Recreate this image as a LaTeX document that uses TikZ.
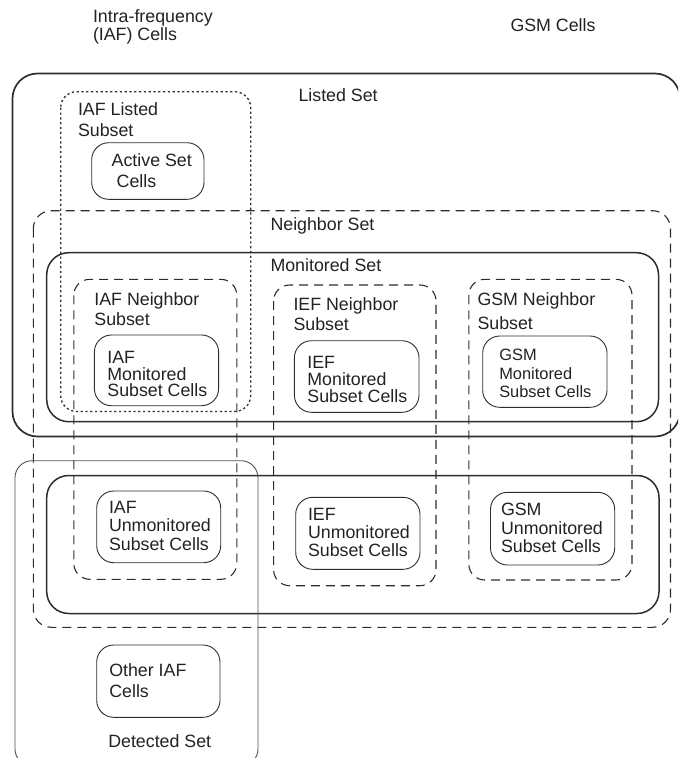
\documentclass[tikz,border=0pt]{standalone}
\usepackage{fontspec}
\setmainfont{Liberation Sans}
\definecolor{ink}{RGB}{34,34,34}
\definecolor{edge}{RGB}{45,45,45}
\definecolor{thinedge}{RGB}{80,80,80}
\newcommand{\lsz}[1]{\fontsize{17.8}{#1}\selectfont}
\begin{document}
% multi-line labels are placed by the baseline of their last line
\begin{tikzpicture}[x=1pt,y=-1pt,
  lbl/.style={anchor=base west, inner sep=0pt, outer sep=0pt, align=left,
    font=\lsz{20}, text=ink},
  setbox/.style={draw=edge, line width=1.5pt, rounded corners=22pt},
  outerbox/.style={draw=edge, line width=1.7pt, rounded corners=25pt},
  dashbox/.style={draw=edge, line width=1.1pt, dash pattern=on 9pt off 6pt, rounded corners=16pt},
  dotbox/.style={draw=edge, line width=1.3pt, dash pattern=on 2.2pt off 2.6pt, rounded corners=16pt},
  cellbox/.style={draw=edge, line width=0.9pt, rounded corners=17pt},
  detbox/.style={draw=thinedge, line width=0.9pt, rounded corners=17pt}]
\useasboundingbox (0,0) rectangle (678,758);
\clip (0,0) rectangle (678,758);

% headings
\node[lbl, font=\lsz{16}] (hiaf) at (93,40.5) {Intra-frequency\\(IAF) Cells};
\node[lbl] (hgsm) at (510.5,31.5) {GSM Cells};

% listed set and IAF listed subset
\draw[outerbox] (12.5,73.5) rectangle (680,436.5);
\node[lbl] (listed) at (298.5,101.5) {Listed Set};
\draw[dotbox] (60.7,91.7) rectangle (250.7,411.5);
\node[lbl, font=\lsz{21}] (iafl) at (78,136) {IAF Listed\\Subset};
\draw[cellbox] (91.7,142.7) rectangle (204,199.3);
\node[lbl, font=\lsz{21}] (act) at (111.7,187.7) {Active Set\\\hspace*{5pt}Cells};

% neighbor set
\draw[dashbox, rounded corners=18pt] (33.3,210.7) rectangle (670.5,627.3);
\node[lbl] (neigh) at (270.5,230) {Neighbor Set};

% monitored set
\draw[setbox] (46.7,252.7) rectangle (658.5,421.7);
\node[lbl] (mon) at (270.5,271) {Monitored Set};

% unmonitored set
\draw[setbox] (46.7,475.5) rectangle (659,613.5);

% neighbor subsets
\draw[dashbox] (73.8,279.3) rectangle (236.8,579.3);
\node[lbl, font=\lsz{19.3}] (iafn) at (94.4,325) {IAF Neighbor\\Subset};
\draw[dashbox] (273.6,285) rectangle (436,585.7);
\node[lbl, font=\lsz{20}] (iefn) at (293.5,330.7) {IEF Neighbor\\Subset};
\draw[dashbox] (468.8,279.3) rectangle (632,580);
\node[lbl, font=\lsz{23.6}] (gsmn) at (477.5,329.3) {GSM Neighbor\\Subset};

% monitored subset cells
\draw[cellbox] (94.4,335) rectangle (218.6,405.7);
\node[lbl, font=\lsz{16.7}] (iafm) at (107.4,396.7) {IAF\\Monitored\\Subset Cells};
\draw[cellbox] (294.4,340.7) rectangle (419,412.3);
\node[lbl, font=\lsz{17}] (iefm) at (307.4,402.3) {IEF\\Monitored\\Subset Cells};
\draw[cellbox] (482.7,336) rectangle (607,407.3);
\node[lbl, font=\fontsize{16.4}{18.3}\selectfont] (gsmm) at (499.3,397.3) {GSM\\Monitored\\Subset Cells};

% unmonitored subset cells
\draw[cellbox] (96.7,491) rectangle (220.7,562.7);
\node[lbl, font=\lsz{18.35}] (iafu) at (109,550) {IAF\\Unmonitored\\Subset Cells};
\draw[cellbox] (295.7,497.3) rectangle (420,569.3);
\node[lbl, font=\lsz{17.65}] (iefu) at (308,556) {IEF\\Unmonitored\\Subset Cells};
\draw[cellbox] (490.5,492.3) rectangle (614.7,565);
\node[lbl, font=\lsz{18.3}] (gsmu) at (501,552.3) {GSM\\Unmonitored\\Subset Cells};

% detected set
\draw[detbox] (15,460.7) rectangle (258,766);
\draw[cellbox] (96.7,645) rectangle (220,717.3);
\node[lbl, font=\lsz{21.7}] (oth) at (109.3,697.7) {Other IAF\\Cells};
\node[lbl] (det) at (108.3,747.3) {Detected Set};
\end{tikzpicture}
\end{document}
